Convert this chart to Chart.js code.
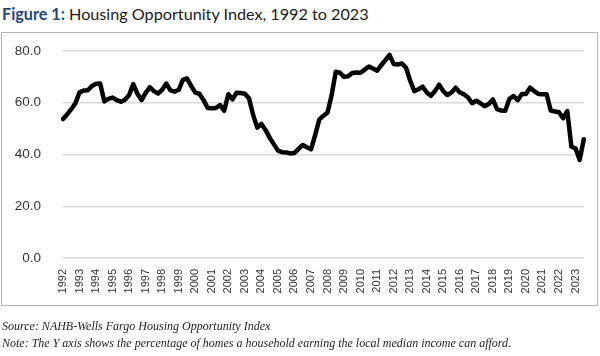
<!DOCTYPE html>
<html>
<head>
<meta charset="utf-8">
<script src="https://cdn.jsdelivr.net/npm/chart.js@4"></script>
<style>
  html, body { margin: 0; padding: 0; background: #fff; width: 600px; height: 356px; overflow: hidden; }
  #title { position: absolute; left: 2px; top: 4px; font-family: Lato, "Open Sans", sans-serif; font-size: 16.2px; color: #1a1a1a; white-space: nowrap; }
  #title b { color: #24477a; font-weight: 700; }
  #box { position: absolute; left: 1px; top: 32px; width: 595px; height: 272px; border: 1.5px solid #b3b3b3; }
  #wrap { position: absolute; left: 0; top: 0; width: 600px; height: 356px; }
  .note { position: absolute; left: 2px; font-family: "Liberation Serif", serif; font-style: italic; font-size: 12px; color: #222; white-space: nowrap; }
</style>
</head>
<body>
<div id="title"><b>Figure 1:</b> Housing Opportunity Index, 1992 to 2023</div>
<div id="box"></div>
<div id="wrap"><canvas id="c" width="600" height="356"></canvas></div>
<div class="note" style="top:319px">Source: NAHB-Wells Fargo Housing Opportunity Index</div>
<div class="note" style="top:336px">Note: The Y axis shows the percentage of homes a household earning the local median income can afford.</div>
<script>
// Years on the x axis (one label per year, data is quarterly)
const years = ['1992','1993','1994','1995','1996','1997','1998','1999','2000','2001','2002','2003','2004','2005','2006','2007','2008','2009','2010','2011','2012','2013','2014','2015','2016','2017','2018','2019','2020','2021','2022','2023'];
const quarters = ['Q1','Q2','Q3','Q4'];
// Housing Opportunity Index, quarterly, 1992 Q1 to 2023 Q3
const hoi = [
  53.7, 55.5, 57.5, 59.8,   // 1992
  64.0, 64.7, 64.8, 66.5,   // 1993
  67.3, 67.4, 60.5, 61.5,   // 1994
  62.0, 61.0, 60.4, 61.2,   // 1995
  63.0, 67.2, 63.5, 61.0,   // 1996
  63.8, 66.0, 64.5, 63.6,   // 1997
  65.0, 67.4, 64.8, 64.3,   // 1998
  65.0, 68.8, 69.4, 66.5,   // 1999
  63.9, 63.5, 61.0, 58.0,   // 2000
  57.9, 58.0, 59.1, 56.9,   // 2001
  63.3, 61.3, 63.9, 63.8,   // 2002
  63.5, 61.7, 55.3, 50.4,   // 2003
  51.8, 49.5, 46.5, 44.0,   // 2004
  41.5, 40.9, 40.8, 40.4,   // 2005
  40.6, 42.2, 43.7, 42.8,   // 2006
  42.0, 47.5, 53.5, 55.0,   // 2007
  56.2, 63.0, 72.0, 71.6,   // 2008
  70.0, 70.2, 71.5, 71.7,   // 2009
  71.6, 72.8, 74.0, 73.2,   // 2010
  72.4, 74.5, 76.5, 78.5,   // 2011
  75.0, 74.8, 75.2, 73.5,   // 2012
  68.5, 64.5, 65.2, 66.2,   // 2013
  64.0, 62.7, 64.5, 67.0,   // 2014
  64.5, 63.0, 64.0, 65.8,   // 2015
  64.0, 63.3, 62.0, 59.8,   // 2016
  60.8, 59.8, 58.7, 59.5,   // 2017
  61.3, 57.5, 57.0, 56.9,   // 2018
  61.5, 62.6, 61.0, 63.4,   // 2019
  63.4, 65.8, 64.5, 63.4,   // 2020
  63.3, 63.3, 57.0, 56.6,   // 2021
  56.3, 54.0, 56.8, 43.0,   // 2022
  42.4, 37.9, 45.9          // 2023
];
const yTicks = [0, 20, 40, 60, 80];

const labels = [];
years.forEach(y => quarters.forEach(q => labels.push(y + ' ' + q)));
labels.length = hoi.length;

new Chart(document.getElementById('c'), {
  type: 'line',
  data: {
    labels: labels,
    datasets: [{
      data: hoi,
      borderColor: '#000',
      borderWidth: 4.5,
      pointRadius: 0,
      tension: 0,
      borderJoinStyle: 'round',
      borderCapStyle: 'round',
      fill: false
    }]
  },
  options: {
    responsive: false,
    animation: false,
    layout: { padding: { top: 51, right: 10, left: 0, bottom: 0 } },
    plugins: { legend: { display: false }, tooltip: { enabled: false } },
    scales: {
      x: {
        offset: false,
        grid: { display: false },
        border: { display: false },
        afterFit: s => { s.height = 98; },
        ticks: {
          autoSkip: false,
          minRotation: 90,
          maxRotation: 90,
          padding: 3,
          color: '#333',
          font: { family: 'Liberation Sans', size: 11 },
          callback: function(v, i) { return i % 4 === 0 ? labels[i].slice(0, 4) : ''; }
        }
      },
      y: {
        min: 0,
        max: 80,
        afterFit: s => { s.width = 63; },
        afterBuildTicks: s => { s.ticks = yTicks.map(v => ({ value: v })); },
        grid: { color: '#d9d9d9', lineWidth: 1.5, drawTicks: false },
        border: { display: false },
        ticks: {
          padding: 22,
          color: '#333',
          font: { family: 'Liberation Sans', size: 13.5 },
          callback: v => Number(v).toFixed(1)
        }
      }
    }
  }
});
</script>
</body>
</html>
